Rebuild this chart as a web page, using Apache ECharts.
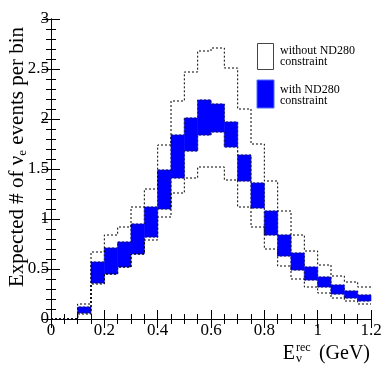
<!DOCTYPE html>
<html>
<head>
<meta charset="utf-8">
<script src="https://cdn.jsdelivr.net/npm/echarts@6/dist/echarts.min.js"></script>
<style>
  html, body { margin: 0; padding: 0; background: #fff; }
  #main { width: 391px; height: 381px; }
</style>
</head>
<body>
<div id="main"></div>
<script>
    // bin edges (GeV)
    var binLeft = [0, 0.05, 0.1, 0.15, 0.2, 0.25, 0.3, 0.35, 0.4, 0.45, 0.5, 0.55,
        0.6, 0.65, 0.7, 0.75, 0.8, 0.85, 0.9, 0.95, 1.0, 1.05, 1.1, 1.15];
    var binRight = [0.05, 0.1, 0.15, 0.2, 0.25, 0.3, 0.35, 0.4, 0.45, 0.5, 0.55, 0.6,
        0.65, 0.7, 0.75, 0.8, 0.85, 0.9, 0.95, 1.0, 1.05, 1.1, 1.15, 1.2];

    // without ND280 constraint (dotted band)
    var withoutLow = [0, 0, 0.05, 0.35, 0.45, 0.52, 0.65, 0.79, 1.02, 1.26, 1.41, 1.52,
        1.52, 1.39, 1.12, 0.92, 0.70, 0.53, 0.40, 0.32, 0.26, 0.21, 0.18, 0.15];
    var withoutHigh = [0, 0, 0.15, 0.67, 0.84, 0.92, 1.12, 1.30, 1.74, 2.18, 2.47, 2.68,
        2.71, 2.51, 2.10, 1.75, 1.38, 1.08, 0.84, 0.68, 0.54, 0.43, 0.37, 0.32];

    // with ND280 constraint (blue band)
    var withLow = [0, 0, 0.06, 0.36, 0.45, 0.52, 0.65, 0.82, 1.10, 1.41, 1.68, 1.84,
        1.87, 1.72, 1.38, 1.11, 0.84, 0.63, 0.49, 0.39, 0.32, 0.25, 0.21, 0.18];
    var withHigh = [0, 0, 0.12, 0.57, 0.71, 0.77, 0.95, 1.12, 1.49, 1.84, 2.01, 2.19,
        2.15, 1.97, 1.64, 1.36, 1.08, 0.84, 0.66, 0.52, 0.42, 0.34, 0.28, 0.24];

    var serif = 'Liberation Serif';

    function boxes(low, high) {
        return binLeft.map(function (x, i) {
            return [x, binRight[i], low[i], high[i]];
        });
    }

    // histogram outline: one point per bin left edge, plus the last right edge
    function steps(values) {
        var pts = binLeft.map(function (x, i) {
            return [x, values[i]];
        });
        pts.push([binRight[binRight.length - 1], values[values.length - 1]]);
        return pts;
    }

    function renderBlueBox(params, api) {
        var lo = api.value(2), hi = api.value(3);
        if (hi <= lo) return;
        var a = api.coord([api.value(0), hi]);
        var b = api.coord([api.value(1), lo]);
        return {
            type: 'rect',
            shape: {x: a[0], y: a[1], width: b[0] - a[0], height: b[1] - a[1]},
            style: {fill: '#0000ff', stroke: '#0000ff', lineWidth: 0.6}
        };
    }

    function stepLine(name, values, color) {
        return {
            type: 'line',
            name: name,
            step: 'end',
            symbol: 'none',
            data: steps(values),
            lineStyle: {color: color, width: 1, type: [2, 2]},
            z: 3
        };
    }

    var tickStyle = {lineStyle: {color: '#000', width: 1}};

    var myChart = echarts.init(document.getElementById('main'));
    myChart.setOption({
        animation: false,
        grid: {left: 51, right: 20, top: 19, bottom: 62},
        xAxis: [
            {
                type: 'value', min: 0, max: 1.2, interval: 0.2,
                axisLine: tickStyle,
                axisTick: {inside: true, length: 9, lineStyle: {color: '#000'}},
                minorTick: {show: true, splitNumber: 4, length: 5, lineStyle: {color: '#000'}},
                splitLine: {show: false},
                axisLabel: {color: '#000', fontFamily: serif, fontSize: 17, margin: 3,
                    formatter: function (v) { return String(+v.toFixed(1)); }}
            },
            {
                type: 'value', min: 0, max: 1.2, interval: 0.2, position: 'top',
                axisLine: tickStyle,
                axisTick: {inside: true, length: 9, lineStyle: {color: '#000'}},
                minorTick: {show: true, splitNumber: 4, length: 5, lineStyle: {color: '#000'}},
                splitLine: {show: false},
                axisLabel: {show: false}
            }
        ],
        yAxis: [
            {
                type: 'value', min: 0, max: 3, interval: 0.5,
                axisLine: {show: true, lineStyle: {color: '#000', width: 1}},
                axisTick: {show: true, inside: true, length: 9, lineStyle: {color: '#000'}},
                minorTick: {show: true, splitNumber: 5, length: 5, lineStyle: {color: '#000'}},
                splitLine: {show: false},
                axisLabel: {color: '#000', fontFamily: serif, fontSize: 17, margin: 2}
            },
            {
                type: 'value', min: 0, max: 3, interval: 0.5, position: 'right',
                axisLine: {show: true, lineStyle: {color: '#000', width: 1}},
                axisTick: {show: true, inside: true, length: 9, lineStyle: {color: '#000'}},
                minorTick: {show: true, splitNumber: 5, length: 5, lineStyle: {color: '#000'}},
                splitLine: {show: false},
                axisLabel: {show: false}
            }
        ],
        series: [
            {
                type: 'custom',
                name: 'with ND280 constraint',
                renderItem: renderBlueBox,
                encode: {x: [0, 1], y: [2, 3]},
                data: boxes(withLow, withHigh),
                z: 2
            },
            stepLine('with high', withHigh, '#1a1a4d'),
            stepLine('with low', withLow, '#1a1a4d'),
            stepLine('without high', withoutHigh, '#000'),
            stepLine('without low', withoutLow, '#000')
        ],
        graphic: [
            // legend
            {type: 'rect', shape: {x: 257.5, y: 43.5, width: 16, height: 26},
                style: {fill: '#fff', stroke: '#444', lineWidth: 1}},
            {type: 'text', left: 280, top: 45,
                style: {text: 'without ND280\nconstraint', fontFamily: serif, fontSize: 12,
                    lineHeight: 11, fill: '#000'}},
            {type: 'rect', shape: {x: 257, y: 80, width: 17, height: 28},
                style: {fill: '#0000ff', stroke: '#4d6bff', lineWidth: 1}},
            {type: 'text', left: 280, top: 84,
                style: {text: 'with ND280\nconstraint', fontFamily: serif, fontSize: 12,
                    lineHeight: 11, fill: '#000'}},
            // y axis title
            {type: 'text', x: 17, y: 157, rotation: Math.PI / 2,
                style: {text: 'Expected # of ν{sub|e} events per bin', fontFamily: serif,
                    fontSize: 21, fill: '#000', align: 'center', verticalAlign: 'middle',
                    rich: {sub: {fontFamily: serif, fontSize: 13, padding: [12, 0, 0, 0], fill: '#000'}}}},
            // x axis title
            {type: 'text', x: 295, y: 354,
                style: {text: 'E', fontFamily: serif, fontSize: 20, fill: '#000',
                    align: 'right', verticalAlign: 'middle'}},
            {type: 'text', x: 296, y: 348,
                style: {text: 'rec', fontFamily: serif, fontSize: 12, fill: '#000',
                    align: 'left', verticalAlign: 'middle'}},
            {type: 'text', x: 296, y: 359,
                style: {text: 'ν', fontFamily: serif, fontSize: 13, fill: '#000',
                    align: 'left', verticalAlign: 'middle'}},
            {type: 'text', x: 370, y: 354,
                style: {text: '(GeV)', fontFamily: serif, fontSize: 20, fill: '#000',
                    align: 'right', verticalAlign: 'middle'}}
        ]
    });
</script>
</body>
</html>
